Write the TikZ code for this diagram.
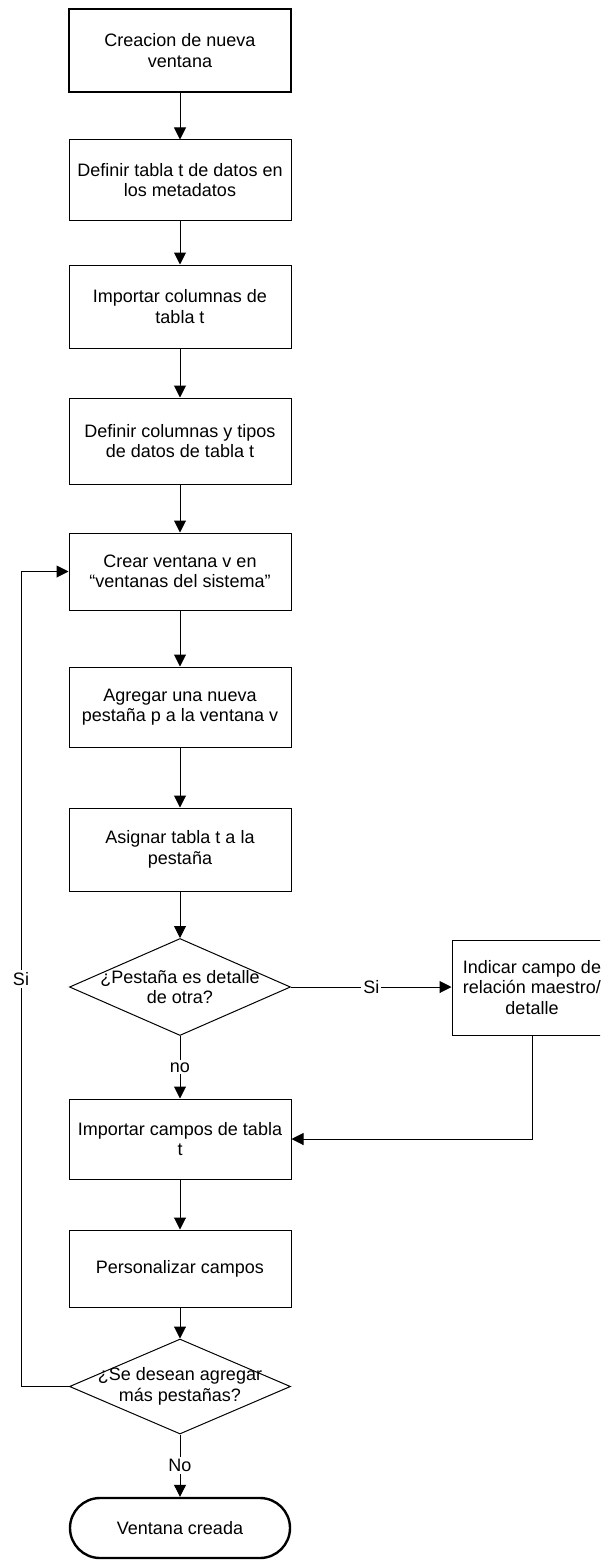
\documentclass[tikz,border=0pt]{standalone}
\usepackage{fontspec}
\setmainfont{Liberation Sans}
\usetikzlibrary{arrows.meta,shapes.geometric}
\begin{document}
\begin{tikzpicture}[x=1pt,y=-1pt,
  every node/.style={font=\fontsize{18}{20.5}\selectfont, align=center, inner sep=0pt},
  proc/.style={draw, line width=1pt, minimum width=222pt},
  startbox/.style={proc, line width=2.4pt},
  decision/.style={draw, diamond, line width=1pt, minimum width=221pt, minimum height=97pt},
  term/.style={draw, line width=2.4pt, rounded corners=30pt, minimum width=220pt, minimum height=60pt},
  flow/.style={line width=1pt, -{Triangle[length=12pt,width=12pt]}},
  lbl/.style={fill=white, inner sep=2pt}
]
\clip (0,0) rectangle (600,1560);

% process steps
\node[startbox, minimum height=83pt] (n1) at (180,50.5) {Creacion de nueva\\ventana};
\node[proc, minimum height=80pt] (n2) at (180,180) {Definir tabla t de datos en\\los metadatos};
\node[proc, minimum height=83pt] (n3) at (180,306.5) {Importar columnas de\\tabla t};
\node[proc, minimum height=86pt] (n4) at (180,441) {Definir columnas y tipos\\de datos de tabla t};
\node[proc, minimum height=77pt] (n5) at (180,571.5) {Crear ventana v en\\“ventanas del sistema”};
\node[proc, minimum height=80pt] (n6) at (180,707) {Agregar una nueva\\pestaña p a la ventana v};
\node[proc, minimum height=83pt] (n7) at (180,849.5) {Asignar tabla t a la\\pestaña};
\node[decision] (d1) at (180,987) {};
\node (t1) at (d1) {¿Pestaña es detalle\\de otra?};
\node[proc, minimum width=160pt, minimum height=95pt] (n8) at (532,987.5) {Indicar campo de\\relación maestro/\\detalle};
\node[proc, minimum height=80pt] (n9) at (180,1139) {Importar campos de tabla\\t};
\node[proc, minimum height=77pt] (n10) at (180,1268.5) {Personalizar campos};
\node[decision, minimum height=95pt] (d2) at (180,1386.5) {};
\node (t2) at (d2) {¿Se desean agregar\\más pestañas?};
\node[term] (n11) at (180,1528) {Ventana creada};

% x position of the loop-back line
\coordinate (lx) at (21,0);

% connectors
\draw[flow] (n1.south) -- (n2.north);
\draw[flow] (n2.south) -- (n3.north);
\draw[flow] (n3.south) -- (n4.north);
\draw[flow] (n4.south) -- (n5.north);
\draw[flow] (n5.south) -- (n6.north);
\draw[flow] (n6.south) -- (n7.north);
\draw[flow] (n7.south) -- (d1.north);
\draw[flow] (d1.east) -- node[lbl]{Si} (d1.east -| n8.west);
\draw[flow] (d1.south) -- node[lbl]{no} (n9.north);
\draw[flow] (n8.south) |- (n9.east);
\draw[flow] (n9.south) -- (n10.north);
\draw[flow] (n10.south) -- (d2.north);
\draw[flow] (d2.south) -- node[lbl]{No} (n11.north);
\draw[flow] (d2.west) -- (d2.west -| lx) -- node[lbl]{Si} (n5.west -| lx) -- (n5.west);
\end{tikzpicture}
\end{document}
